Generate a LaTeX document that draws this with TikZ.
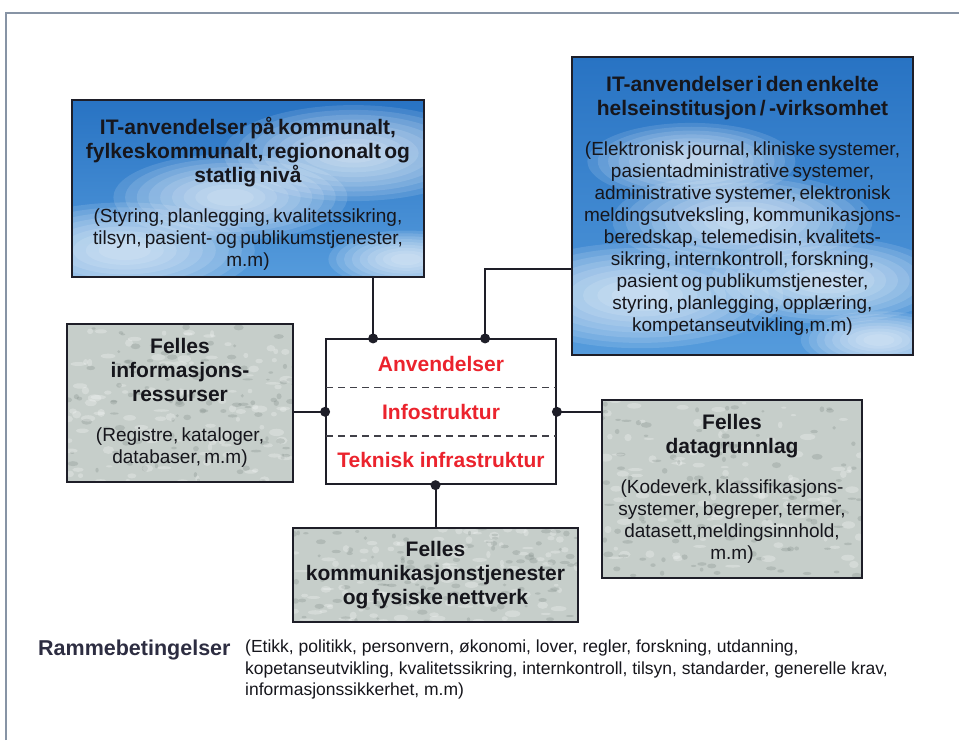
\documentclass[tikz,border=0pt]{standalone}
\usepackage{fontspec}
\setmainfont{Liberation Sans}
\usetikzlibrary{positioning,fit,calc}
\definecolor{boxline}{RGB}{30,30,40}
\definecolor{skyA}{RGB}{40,115,195}
\definecolor{skyC}{RGB}{85,155,220}
\definecolor{stone}{RGB}{198,206,202}
\definecolor{stoneD}{RGB}{105,118,114}
\definecolor{frameline}{RGB}{135,148,165}
\definecolor{layerred}{RGB}{235,35,45}
\definecolor{inkdark}{RGB}{22,22,28}
\definecolor{rammecol}{RGB}{45,45,65}
\newcommand{\boxhead}[1]{{\fontsize{21}{24}\selectfont\bfseries #1\par}}
\newcommand{\boxbody}[1]{\vspace{18pt}{\fontsize{19}{22}\selectfont #1\par}}

\begin{document}
\begin{tikzpicture}[x=1pt,y=-1pt,
  skybox/.style={draw=boxline,line width=1.8pt,inner xsep=4pt,inner ysep=0pt,
    top color=skyA,bottom color=skyC,align=center,text=inkdark,
    path picture={
      \foreach \fx/\fy/\sz in {#1}
        \foreach \s in {1,0.9,...,0.15}
          \fill[white,opacity=.12] let \p1=(path picture bounding box.south west),
            \p2=(path picture bounding box.north east) in
            ({\x1+\fx*(\x2-\x1)},{\y2-\fy*(\y2-\y1)}) ellipse ({\s*\sz*130pt} and {\s*\sz*48pt});
    }},
  stonebox/.style={draw=boxline,line width=1.8pt,fill=stone,inner xsep=4pt,inner ysep=0pt,
    align=center,text=inkdark,
    path picture={\pgfmathsetseed{#1}
      \foreach \k in {1,...,110}{
        \fill[stoneD,opacity=.22] let \p1=(path picture bounding box.south west),
          \p2=(path picture bounding box.north east) in
          ({\x1+rnd*(\x2-\x1)},{\y1+rnd*(\y2-\y1)}) ellipse ({(1.5+4*rnd)*1pt} and {(1+2*rnd)*1pt});
        \fill[white,opacity=.25] let \p1=(path picture bounding box.south west),
          \p2=(path picture bounding box.north east) in
          ({\x1+rnd*(\x2-\x1)},{\y1+rnd*(\y2-\y1)}) ellipse ({(2+6*rnd)*1pt} and {(1+3*rnd)*1pt});
      }}},
  layer/.style={minimum width=230pt,minimum height=48.3pt,inner sep=0pt,outer sep=0pt,
    text=layerred,font=\fontsize{21}{24}\selectfont\bfseries},
  corebox/.style={draw=boxline,line width=1.8pt,inner sep=0pt},
  sep/.style={draw=boxline!85,line width=1.3pt,dash pattern=on 7pt off 5pt},
  link/.style={draw=boxline,line width=2pt},
  frame/.style={draw=frameline,line width=1.5pt}]
\useasboundingbox (0,0) rectangle (959,740);
\draw[frame] (6,740) -- (6,13) -- (959,13);

% applications, top
\node[skybox={0.8/0.3/1,0.45/0.55/0.9,0.15/0.85/1,0.95/0.9/0.6},text width=344pt,minimum height=177pt] (tl) at (248,188.5) {%
  \boxhead{\rule{0pt}{27pt}IT-anvendelser på kommunalt,\\ fylkeskommunalt, regiononalt og\\ statlig nivå}%
  \boxbody{(Styring, planlegging, kvalitetssikring,\\ tilsyn, pasient- og publikumstjenester,\\ m.m)}};
\node[skybox={0.2/0.8/1.1,0.5/0.55/1,0.75/0.75/0.9,0.35/0.35/0.8,0.9/0.95/0.6},text width=333pt,minimum height=298pt] (tr) at (742.5,206) {%
  \boxhead{IT-anvendelser i den enkelte\\ helseinstitusjon / -virksomhet}%
  \boxbody{(Elektronisk journal, kliniske systemer,\\ pasientadministrative systemer,\\
  administrative systemer, elektronisk\\ meldingsutveksling, kommunikasjons-\\
  beredskap, telemedisin, kvalitets-\\ sikring, internkontroll, forskning,\\
  pasient og publikumstjenester,\\ styring, planlegging, opplæring,\\ kompetanseutvikling,m.m)}};

% shared resources
\node[stonebox=3,text width=218pt,minimum height=158pt] (lb) at (180,403) {%
  \boxhead{Felles\\ informasjons-\\ ressurser}%
  \boxbody{(Registre, kataloger,\\ databaser, m.m)}};
\node[stonebox=5,text width=252pt,minimum height=178pt] (rb) at (732,489) {%
  \boxhead{Felles\\ datagrunnlag}%
  \boxbody{(Kodeverk, klassifikasjons-\\ systemer, begreper, termer,\\ datasett,meldingsinnhold,\\ m.m)}};
\node[stonebox=9,text width=277pt,minimum height=94pt] (bb) at (435.5,575) {%
  \boxhead{Felles\\ kommunikasjonstjenester\\ og fysiske nettverk}};

% the three layers
\node[layer] (anv) at (441,363.5) {Anvendelser};
\node[layer,below=0pt of anv] (inf) {Infostruktur};
\node[layer,below=0pt of inf] (tek) {Teknisk infrastruktur};
\node[corebox,fit=(anv)(inf)(tek)] (core) {};
\draw[sep] (anv.south west) -- (anv.south east);
\draw[sep] (inf.south west) -- (inf.south east);

% connectors
\coordinate (pA) at ([xshift=48pt]core.north west);
\coordinate (pB) at ([xshift=160pt]core.north west);
\coordinate (pC) at (bb.north |- core.south);
\draw[link] (pA) -- (pA |- tl.south);
\draw[link] (pB) |- ([yshift=-63pt]tr.west);
\draw[link] (core.west) -- (core.west -| lb.east);
\draw[link] (core.east) -- (core.east -| rb.west);
\draw[link] (pC) -- (bb.north);
\foreach \p in {pA,pB,pC,core.west,core.east}
  \fill[boxline] (\p) circle (5pt);

% framework conditions
\node[anchor=base west,inner sep=0pt,text=rammecol,font=\fontsize{21.5}{24}\selectfont\bfseries] (ramme) at (38,655) {Rammebetingelser};
\node[anchor=north west,inner sep=0pt,align=left,text=inkdark,font=\fontsize{17.5}{21.5}\selectfont] (rtxt) at (245,640) {%
  (Etikk, politikk, personvern, økonomi, lover, regler, forskning, utdanning,\\
  kopetanseutvikling, kvalitetssikring, internkontroll, tilsyn, standarder, generelle krav,\\
  informasjonssikkerhet, m.m)};
\end{tikzpicture}
\end{document}
